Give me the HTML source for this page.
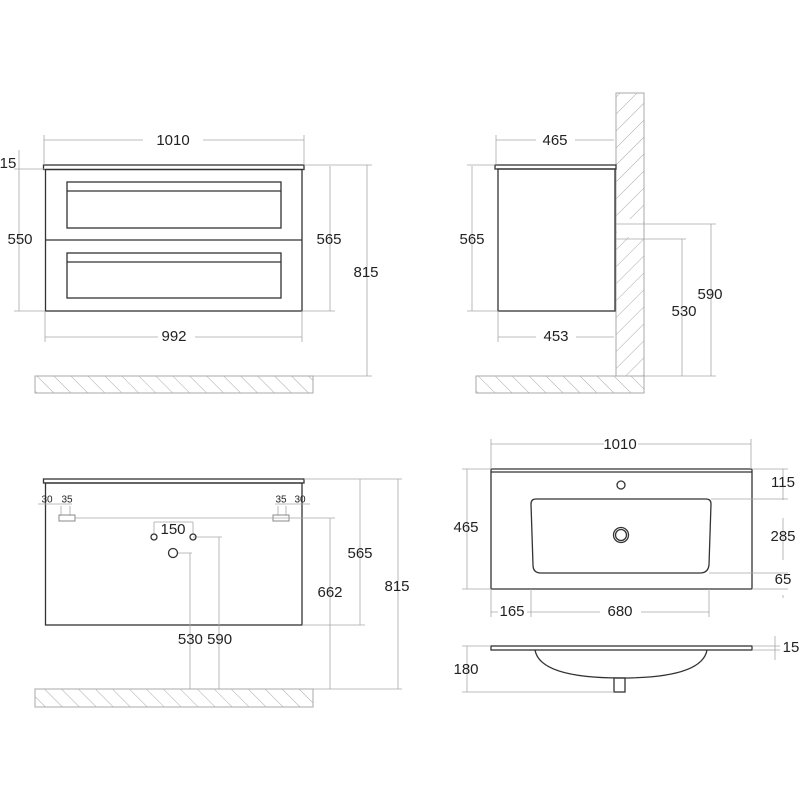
<!DOCTYPE html>
<html><head><meta charset="utf-8"><style>
html,body{margin:0;padding:0;background:#fff;}
svg{display:block;}
text{font-family:"Liberation Sans",sans-serif;font-size:15px;fill:#222;text-anchor:middle;dominant-baseline:middle;}
.s{font-size:10px;}
.d{stroke:#a8a8a8;stroke-width:0.8;fill:none;}
.o{stroke:#333;stroke-width:1.3;fill:none;}
.h{stroke:#aaa;stroke-width:1;}
</style></head><body>
<svg width="800" height="800" viewBox="0 0 800 800" xmlns="http://www.w3.org/2000/svg">
<defs>
<pattern id="hf" patternUnits="userSpaceOnUse" width="12" height="12" patternTransform="rotate(-45)">
<line x1="0" y1="0" x2="0" y2="12" stroke="#aaa" stroke-width="1"/></pattern>
<pattern id="hw" patternUnits="userSpaceOnUse" width="12" height="12" patternTransform="rotate(45)">
<line x1="0" y1="0" x2="0" y2="12" stroke="#aaa" stroke-width="1"/></pattern>
</defs>

<!-- Q1 front -->
<rect x="35" y="376" width="278" height="17" class="h" style="fill:url(#hf)"/>
<rect x="43.5" y="165" width="260.5" height="4.5" class="o" fill="#fff"/>
<rect x="45.5" y="169.5" width="256.5" height="141.5" class="o"/>
<line x1="45.5" y1="240" x2="302" y2="240" class="o"/>
<rect x="67" y="182" width="214" height="46" class="o"/>
<line x1="67" y1="191" x2="281" y2="191" class="o"/>
<rect x="67" y="253" width="214" height="45" class="o"/>
<line x1="67" y1="262" x2="281" y2="262" class="o"/>
<path class="d" d="M44 140H143M203 140H304M44 135V165M304 135V165M45 337H158M195 337H302M45 311V342M302 311V342M19 150V311M14 169H45M14 311H45M19 155V170M304 165H372M302 311H335M330 166V311M367 165V376M313 376H372"/>
<text x="173" y="141">1010</text>
<text x="8" y="164">15</text>
<text x="20" y="240">550</text>
<text x="329" y="240">565</text>
<text x="366" y="273">815</text>
<text x="174" y="337">992</text>

<!-- Q2 side -->
<rect x="616" y="93" width="28" height="283" class="h" style="fill:url(#hw)"/>
<rect x="617" y="219" width="26" height="18" fill="#fff"/>
<rect x="476" y="376" width="168" height="17" class="h" style="fill:url(#hf)"/>
<rect x="495" y="165" width="121" height="4" class="o" fill="#fff"/>
<rect x="498" y="169" width="117" height="142" class="o"/>
<path class="d" d="M496 140H536M575 140H614M496 135V165M472 166V311M467 165H495M467 311H498M498 337H536M576 337H614M498 311V342M616 224H716M616 239H686M711 224V376M682 239V376M644 376H716"/>
<text x="555" y="141">465</text>
<text x="472" y="240">565</text>
<text x="556" y="337">453</text>
<text x="710" y="295">590</text>
<text x="684" y="312">530</text>

<!-- Q3 back -->
<rect x="35" y="689" width="278" height="18" class="h" style="fill:url(#hf)"/>
<rect x="43.5" y="479" width="260.5" height="4" class="o" fill="#fff"/>
<rect x="45.5" y="483" width="256.5" height="142" class="o"/>
<rect x="59" y="515" width="16" height="6" fill="none" stroke="#888" stroke-width="1"/>
<rect x="273" y="515" width="16" height="6" fill="none" stroke="#888" stroke-width="1"/>
<path class="d" d="M75 518H335M38 504H72M275 504H310M61 506V516M70 506V516M278 506V516M286 506V516M154 522H193M154 522V535M193 522V535M193 537H222M178 553H192M190 553V689M219 537V689M330 518V689M302 625H365M360 479H365M304 479H402M360 479V625M398 479V689M313 689H402"/>
<circle cx="154" cy="537" r="3" class="o" stroke-width="1"/>
<circle cx="193" cy="537" r="3" class="o" stroke-width="1"/>
<circle cx="173" cy="553" r="4.5" class="o" stroke-width="1"/>
<text class="s" x="47" y="500">30</text><text class="s" x="67" y="500">35</text>
<text class="s" x="281" y="500">35</text><text class="s" x="300" y="500">30</text>
<text x="173" y="530">150</text>
<text x="205" y="640">530 590</text>
<text x="330" y="593">662</text>
<text x="360" y="554">565</text>
<text x="397" y="587">815</text>

<!-- Q4 top -->
<rect x="491" y="469" width="261" height="120" class="o" rx="1"/>
<line x1="491" y1="472" x2="752" y2="472" class="o" stroke-width="0.8"/>
<path class="o" d="M536 499H706Q711 499 711 504L709 565Q708 573 700 573H541Q533 573 533 565L531 504Q531 499 536 499Z"/>
<circle cx="621" cy="485" r="4" class="o" stroke-width="1"/>
<circle cx="621" cy="535" r="7.5" class="o" stroke-width="1"/>
<circle cx="621" cy="535" r="5.5" class="o" stroke-width="1"/>
<path class="d" d="M491 444H604M638 444H751M491 439V469M751 439V469M467 469V589M462 469H491M462 589H491M752 469H788M711 499H788M709 573H788M752 589H788M783 469V500M783 518V560M783 595V598M491 612H498M527 612H600M641 612H709M531 589V617M709 589V617M491 589V617"/>
<text x="620" y="445">1010</text>
<text x="466" y="528">465</text>
<text x="783" y="483">115</text>
<text x="783" y="537">285</text>
<text x="783" y="580">65</text>
<text x="512" y="612">165</text>
<text x="620" y="612">680</text>
<!-- side view -->
<rect x="491" y="646" width="261" height="4" class="o"/>
<path class="o" d="M535 650Q540 678 621 678Q702 678 707 650"/>
<rect x="614" y="678" width="11" height="14" class="o"/>
<path class="d" d="M467 646V692M462 646H491M462 692H614M775 636V660M752 646H780M752 650H780"/>
<text x="791" y="648">15</text>
<text x="466" y="670">180</text>
</svg>
</body></html>
